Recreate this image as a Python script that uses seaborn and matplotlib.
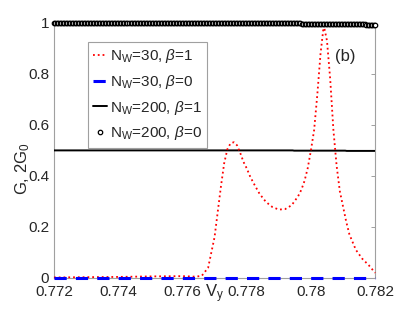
import numpy as np
import pandas as pd
import matplotlib
matplotlib.use("Agg")
import matplotlib.pyplot as plt
import seaborn as sns

# N_W=30, beta=1 (red dotted)
vy_30 = [0.772, 0.773, 0.774, 0.775, 0.776, 0.7764, 0.7766, 0.7768, 0.7770, 0.7771,
         0.7772, 0.7773, 0.7774, 0.7775, 0.7776, 0.7777, 0.7778, 0.7779, 0.7780, 0.7781,
         0.7782, 0.7784, 0.7786, 0.7788, 0.7790, 0.7792, 0.7794, 0.7796, 0.7797, 0.7798,
         0.7799, 0.7800, 0.7801, 0.7802, 0.7803, 0.7804, 0.7805, 0.7806, 0.7807, 0.7808,
         0.7809, 0.7810, 0.7811, 0.7812, 0.7814, 0.7816, 0.7818, 0.7820]
g_30_b1 = [0.002, 0.003, 0.004, 0.006, 0.007, 0.005, 0.008, 0.04, 0.16, 0.26,
           0.36, 0.45, 0.505, 0.528, 0.532, 0.52, 0.49, 0.455, 0.43, 0.40,
           0.375, 0.33, 0.298, 0.278, 0.268, 0.27, 0.285, 0.32, 0.345, 0.38,
           0.43, 0.50, 0.58, 0.72, 0.88, 0.99, 0.93, 0.78, 0.58, 0.44,
           0.34, 0.28, 0.22, 0.17, 0.11, 0.075, 0.05, 0.02]
# N_W=30, beta=0 (blue dashed)
g_30_b0 = [0.0] * len(vy_30)

# N_W=200 series on a fine grid
vy_200 = np.linspace(0.772, 0.782, 215)
g_200_b1 = [0.5] * 160 + [0.499] * 35 + [0.498] * 20
g_200_b0 = ([1.0] * 130 + [0.999] * 20 + [0.998] * 15 + [0.997] * 15 + [0.996] * 10
            + [0.995] * 10 + [0.994] * 8 + [0.993] * 7)

labels = [r"N$_\mathregular{W}$=30, $\beta$=1", r"N$_\mathregular{W}$=30, $\beta$=0",
          r"N$_\mathregular{W}$=200, $\beta$=1", r"N$_\mathregular{W}$=200, $\beta$=0"]

sns.set_style("white")
plt.rcParams['font.family'] = ['Liberation Sans', 'DejaVu Sans']
plt.rcParams['mathtext.fontset'] = 'custom'
plt.rcParams['mathtext.rm'] = 'Liberation Sans'
plt.rcParams['mathtext.it'] = 'Liberation Sans:italic'

fig = plt.figure(figsize=(4.15, 3.13), dpi=100)
ax = fig.add_axes([0.130, 0.112, 0.774, 0.815])

df30 = pd.DataFrame({"vy": vy_30, "b1": g_30_b1, "b0": g_30_b0})
df200 = pd.DataFrame({"vy": vy_200, "b1": g_200_b1, "b0": g_200_b0})

sns.lineplot(data=df30, x="vy", y="b1", ax=ax, color="red", linestyle=":", lw=1.3,
             label=labels[0], clip_on=False, zorder=4)
sns.lineplot(data=df30, x="vy", y="b0", ax=ax, color="blue", linestyle=(0, (4, 3)), lw=2.2,
             label=labels[1], clip_on=False, zorder=4)
sns.lineplot(data=df200, x="vy", y="b1", ax=ax, color="black", lw=1.4, label=labels[2], zorder=3)
sns.lineplot(data=df200, x="vy", y="b0", ax=ax, color="black", lw=0, marker="o",
             markersize=3.2, markerfacecolor="white", markeredgecolor="black", markeredgewidth=0.9,
             label=labels[3], clip_on=False, zorder=4)

ax.set_xlim(0.772, 0.782)
ax.set_ylim(0, 1)
ax.set_xticks([0.772, 0.774, 0.776, 0.778, 0.780, 0.782])
ax.set_xticklabels(["0.772", "0.774", "0.776", "0.778", "0.78", "0.782"])
ax.set_yticks([0, 0.2, 0.4, 0.6, 0.8, 1])
ax.set_yticklabels(["0", "0.2", "0.4", "0.6", "0.8", "1"])
ax.tick_params(direction="in", length=3, width=0.6, color="#909090", labelsize=11,
               top=False, right=True)
ax.tick_params(axis="x", pad=5)
for s in ax.spines.values():
    s.set_color("#a0a0a0")
    s.set_linewidth(0.8)

ax.set_xlabel("")
ax.set_ylabel("")
fig.text(0.518, 0.025, r"V$_\mathregular{y}$", fontsize=12, ha="center", va="bottom")
fig.text(0.055, 0.46, r"G, 2G$_\mathregular{0}$", fontsize=12, rotation=90, ha="center", va="center")
ax.text(0.94, 0.87, "(b)", transform=ax.transAxes, fontsize=12, ha="right", va="center")

leg = ax.legend(loc="upper left", bbox_to_anchor=(0.105, 0.925), fontsize=11, handlelength=0.9,
                handletextpad=0.2, borderpad=0.35, labelspacing=0.5, fancybox=False,
                framealpha=1, edgecolor="#a0a0a0", borderaxespad=0)
leg.get_frame().set_linewidth(0.8)

fig.savefig("out.png", dpi=100)
